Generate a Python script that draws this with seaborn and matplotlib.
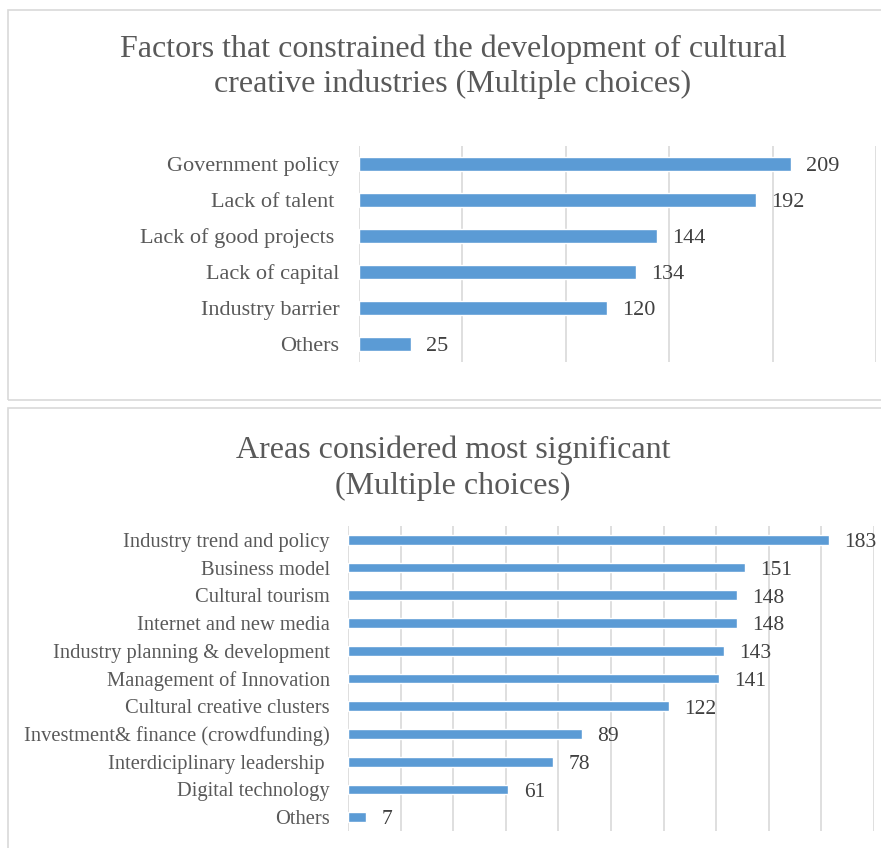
import matplotlib
matplotlib.use("Agg")
import matplotlib.pyplot as plt
import seaborn as sns
import pandas as pd
from matplotlib.patches import Rectangle

# ---- data ----
title1 = "Factors that constrained the development of cultural\ncreative industries (Multiple choices)"
cats1 = ["Government policy", "Lack of talent ", "Lack of good projects ", "Lack of capital",
         "Industry barrier", "Others"]
vals1 = [209, 192, 144, 134, 120, 25]
ticks1 = [0, 50, 100, 150, 200, 250]

title2 = "Areas considered most significant\n(Multiple choices)"
cats2 = ["Industry trend and policy", "Business model", "Cultural tourism",
         "Internet and new media", "Industry planning & development",
         "Management of Innovation", "Cultural creative clusters",
         "Investment& finance (crowdfunding)", "Interdiciplinary leadership ",
         "Digital technology", "Others"]
vals2 = [183, 151, 148, 148, 143, 141, 122, 89, 78, 61, 7]
ticks2 = list(range(0, 201, 20))

sns.set_theme(style="white")
plt.rcParams['font.family'] = ['Liberation Serif', 'DejaVu Serif']

W, H = 881, 848
fig = plt.figure(figsize=(W / 100, H / 100), dpi=100)
fig.patch.set_facecolor("white")

BAR = "#5B9BD5"
GRID = "#D9D9D9"
LBL = "#595959"
VAL = "#404040"

def px_axes(x0, y0, x1, y1):
    return fig.add_axes([x0 / W, 1 - y1 / H, (x1 - x0) / W, (y1 - y0) / H])

# panel borders
for (x0, y0, x1, y1) in [(8, 10, 884, 400), (8, 408, 884, 852)]:
    fig.patches.append(Rectangle((x0 / W, 1 - y1 / H), (x1 - x0) / W, (y1 - y0) / H,
                                 transform=fig.transFigure, fill=False,
                                 edgecolor=GRID, linewidth=1.2))

def draw(ax, cats, vals, ticks, lblsize, valsize, pad, width):
    df = pd.DataFrame({"cat": cats, "val": vals})
    sns.barplot(data=df, x="val", y="cat", color=BAR, saturation=1, width=width,
                ax=ax, orient="h")
    ax.set_xlim(ticks[0], ticks[-1])
    ax.set_ylim(len(cats) - 0.5, -0.5)
    ax.set_xticks(ticks)
    ax.xaxis.grid(True, color=GRID, linewidth=1.2)
    ax.set_axisbelow(True)
    ax.tick_params(axis="x", labelbottom=False, length=0)
    ax.tick_params(axis="y", length=0, labelsize=lblsize, labelcolor=LBL, pad=pad)
    ax.set_xlabel("")
    ax.set_ylabel("")
    for s in ax.spines.values():
        s.set_visible(False)
    labels = ax.bar_label(ax.containers[0], padding=10, fontsize=valsize, color=VAL)
    for t in labels:
        t.xyann = (11, -2)
    ax.patch.set_alpha(0)

ax1 = px_axes(359, 146, 876, 362)
draw(ax1, cats1, vals1, ticks1, 16, 16, 14, 0.37)
fig.text(453 / W, 1 - 67 / H, title1, ha="center", va="center", fontsize=23,
         color=LBL, linespacing=1.25)

ax2 = px_axes(348, 526, 874, 831)
draw(ax2, cats2, vals2, ticks2, 14.8, 15.5, 13, 0.35)
fig.text(453 / W, 1 - 468 / H, title2, ha="center", va="center", fontsize=23,
         color=LBL, linespacing=1.32)

fig.savefig("out.png", dpi=100)
